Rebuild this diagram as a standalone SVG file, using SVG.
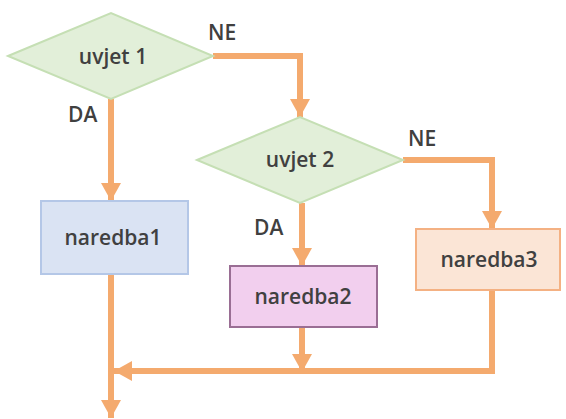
<svg xmlns="http://www.w3.org/2000/svg" width="566" height="419" viewBox="0 0 566 419">
<style>
.t{font-family:"Open Sans","Liberation Sans",sans-serif;font-size:21px;font-weight:600;fill:#404040;text-anchor:middle;dominant-baseline:central}
.l{font-family:"Open Sans","Liberation Sans",sans-serif;font-size:21px;font-weight:600;fill:#404040}
.c{fill:none;stroke:#f4aa6e;stroke-width:6}
.dia{fill:#e2efd9;stroke:#c5dfb4;stroke-width:2}
</style>
<defs>
<marker id="ah" markerUnits="userSpaceOnUse" markerWidth="18" markerHeight="20" refX="18" refY="10" orient="auto" viewBox="0 0 18 20">
<path d="M0,0 L18,10 L0,20 z" fill="#f4aa6e"/>
</marker>
</defs>
<rect width="566" height="419" fill="#ffffff"/>
<g id="connectors">
<path class="c" d="M213,56 H300 V117" marker-end="url(#ah)"/>
<path class="c" d="M111,99 V201" marker-end="url(#ah)"/>
<path class="c" d="M302,203 V266" marker-end="url(#ah)"/>
<path class="c" d="M403,160 H492 V229" marker-end="url(#ah)"/>
<path class="c" d="M111,274 V418" marker-end="url(#ah)"/>
<path class="c" d="M302,327 V372" marker-end="url(#ah)"/>
<path class="c" d="M492,290 V371 H114" marker-end="url(#ah)"/>
</g>
<g id="uvjet1">
<polygon class="dia" points="8,56 111,13 213,56 111,99"/>
<text class="t" x="113" y="56">uvjet 1</text>
</g>
<g id="uvjet2">
<polygon class="dia" points="197,160 300,117 403,160 300,203"/>
<text class="t" x="300" y="159">uvjet 2</text>
</g>
<g id="naredba1">
<rect x="41" y="201" width="147" height="73" fill="#dae3f3" stroke="#b4c7e7" stroke-width="2"/>
<text class="t" x="113" y="237">naredba1</text>
</g>
<g id="naredba2">
<rect x="230" y="266" width="147" height="61" fill="#f2cfee" stroke="#9a6e94" stroke-width="2"/>
<text class="t" x="303" y="296">naredba2</text>
</g>
<g id="naredba3">
<rect x="416" y="229" width="144" height="61" fill="#fbe5d6" stroke="#f4b183" stroke-width="2"/>
<text class="t" x="489" y="259">naredba3</text>
</g>
<g id="labels">
<text class="l" x="208" y="40">NE</text>
<text class="l" x="68" y="122">DA</text>
<text class="l" x="408" y="146">NE</text>
<text class="l" x="254" y="235">DA</text>
</g>
</svg>
